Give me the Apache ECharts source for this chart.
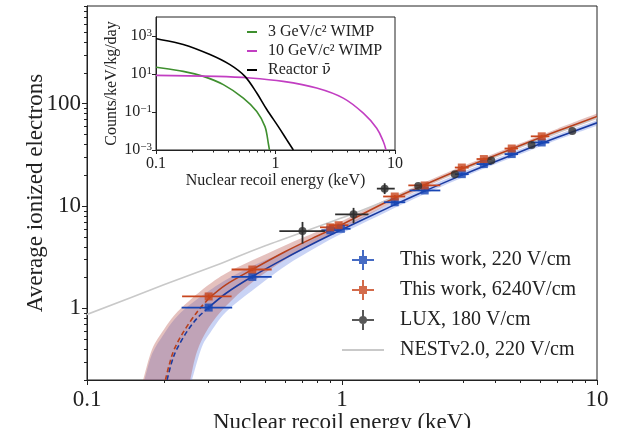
<!DOCTYPE html>
<html><head><meta charset="utf-8">
<script src="https://cdn.jsdelivr.net/npm/echarts@6/dist/echarts.min.js"></script>
<style>html,body{margin:0;padding:0;background:#fff}#c{width:619px;height:428px}</style>
</head><body><div id="c"></div>
<script>
const FONT = '"Liberation Serif", "DejaVu Serif", serif';

// ---------- main axes ticks ----------
const xMajor = [0.1, 1, 10];
const xMinor = [0.2, 0.3, 0.4, 0.5, 0.6, 0.7, 0.8, 0.9, 2, 3, 4, 5, 6, 7, 8, 9];
const yMajor = [1, 10, 100];
const yMinor = [0.2, 0.3, 0.4, 0.5, 0.6, 0.7, 0.8, 0.9, 2, 3, 4, 5, 6, 7, 8, 9,
                20, 30, 40, 50, 60, 70, 80, 90, 200, 300, 400, 500, 600, 700, 800, 900];

// ---------- main data ----------
const blueX   = [0.3, 0.445, 0.9, 0.99, 1.61, 2.11, 2.95, 3.6, 4.63, 6.07];
const blueY   = [1.02, 2.03, 5.8, 6.0, 10.9, 14.2, 20.5, 25.7, 32.2, 41.8];
const blueXlo = [0.235, 0.369, 0.83, 0.91, 1.46, 1.84, 2.77, 3.37, 4.34, 5.5];
const blueXhi = [0.371, 0.53, 0.98, 1.08, 1.77, 2.43, 3.14, 3.86, 4.9, 6.5];
const blueYlo = [0.97, 1.95, 5.6, 5.8, 10.5, 13.7, 19.8, 24.8, 31.1, 40.4];
const blueYhi = [1.07, 2.11, 6.0, 6.2, 11.3, 14.7, 21.2, 26.6, 33.3, 43.2];

const redX   = [0.3, 0.445, 0.9, 0.97, 1.61, 2.11, 2.95, 3.6, 4.63, 6.07];
const redY   = [1.31, 2.4, 6.2, 6.5, 12.4, 15.9, 23.8, 28.8, 36.5, 48.0];
const redXlo = [0.236, 0.369, 0.82, 0.89, 1.45, 1.82, 2.77, 3.37, 4.34, 5.5];
const redXhi = [0.369, 0.53, 0.99, 1.06, 1.77, 2.43, 3.14, 3.86, 4.9, 6.5];
const redYlo = [1.25, 2.31, 6.0, 6.3, 12.0, 15.4, 23.0, 27.9, 35.3, 46.4];
const redYhi = [1.37, 2.49, 6.4, 6.7, 12.8, 16.4, 24.6, 29.7, 37.7, 49.6];

const luxX   = [0.7, 1.11, 1.47, 1.99, 2.77, 3.85, 5.54, 8.0];
const luxY   = [5.7, 8.3, 14.8, 15.7, 20.5, 27.8, 39.5, 54.0];
const luxXlo = [0.568, 0.94, 1.37, 1.99, 2.77, 3.85, 5.54, 8.0];
const luxXhi = [0.857, 1.27, 1.61, 1.99, 2.77, 3.85, 5.54, 8.0];
const luxYlo = [4.3, 6.8, 13.1, 15.7, 20.5, 27.8, 39.5, 54.0];
const luxYhi = [7.0, 9.6, 16.7, 15.7, 20.5, 27.8, 39.5, 54.0];

// fits; dashed part below the first data point
const redDashX  = [0.203, 0.21, 0.22, 0.24, 0.27, 0.3];
const redDashY  = [0.2, 0.28, 0.4, 0.6, 0.92, 1.25];
const redFitX   = [0.3, 0.35, 0.445, 0.6, 0.8, 1, 1.5, 2, 3, 5, 7, 10];
const redFitY   = [1.25, 1.7, 2.4, 3.6, 5.1, 6.6, 11, 15.2, 23.5, 39, 54, 75];
const blueDashX = [0.206, 0.215, 0.225, 0.245, 0.27, 0.3];
const blueDashY = [0.2, 0.3, 0.4, 0.58, 0.8, 1.02];
const blueFitX  = [0.3, 0.35, 0.445, 0.6, 0.8, 1, 1.5, 2, 3, 5, 7, 10];
const blueFitY  = [1.02, 1.4, 2.05, 3.1, 4.5, 5.9, 9.5, 13.2, 20.4, 34, 47, 65];

// uncertainty bands
const redUpX  = [0.166, 0.18, 0.2, 0.22, 0.25, 0.3, 0.35, 0.445, 0.6, 0.8, 1, 1.5, 2, 3, 5, 7, 10];
const redUpY  = [0.2, 0.4, 0.62, 0.86, 1.17, 1.7, 2.2, 2.95, 4.15, 5.65, 7.15, 11.7, 16.1, 24.7, 41, 57, 80];
const redLoX  = [0.254, 0.27, 0.3, 0.35, 0.445, 0.6, 0.8, 1, 1.5, 2, 3, 5, 7, 10];
const redLoY  = [0.2, 0.38, 0.65, 1.05, 1.8, 3.0, 4.5, 6.0, 10.2, 14.3, 22.3, 37, 51, 71];
const blueUpX = [0.168, 0.18, 0.2, 0.22, 0.25, 0.3, 0.35, 0.445, 0.6, 0.8, 1, 1.5, 2, 3, 5, 7, 10];
const blueUpY = [0.2, 0.36, 0.56, 0.78, 1.06, 1.48, 1.9, 2.6, 3.6, 5.0, 6.4, 10.2, 14.1, 21.7, 36, 50, 69];
const blueLoX = [0.258, 0.28, 0.3, 0.35, 0.445, 0.6, 0.8, 1, 1.5, 2, 3, 5, 7, 10];
const blueLoY = [0.2, 0.4, 0.55, 0.92, 1.5, 2.6, 4.0, 5.4, 8.8, 12.3, 19.2, 32, 44.5, 61];

const nestX = [0.1, 0.2, 0.333, 0.5, 1.11, 2, 5, 10];
const nestY = [0.873, 1.7, 2.74, 4.1, 8.46, 15.3, 38, 73];

// ---------- inset data ----------
const insetXMajor = [0.1, 1, 10];
const insetXMinor = [0.2, 0.3, 0.4, 0.5, 0.6, 0.7, 0.8, 0.9, 2, 3, 4, 5, 6, 7, 8, 9];
const insetYMajor = [1e-3, 1e-1, 1e1, 1e3];
const wimp3X = [0.1, 0.169, 0.249, 0.366, 0.538, 0.697, 0.817, 0.871, 0.89];
const wimp3Y = [22.6, 13.8, 7.5, 2.75, 0.54, 0.107, 0.017, 0.0022, 0.001];
const wimp10X = [0.1, 0.322, 0.612, 1.16, 2.21, 3.69, 5.43, 7.03, 7.98, 8.41];
const wimp10Y = [8.5, 7.5, 6.2, 4.1, 1.84, 0.54, 0.087, 0.014, 0.0028, 0.001];
const reactorX = [0.1, 0.169, 0.283, 0.416, 0.555, 0.697, 0.843, 1.056, 1.24, 1.41];
const reactorY = [720, 360, 106, 31, 7.5, 1.0, 0.14, 0.017, 0.0035, 0.001];

const C_BLUE = '#1846b4', C_RED = '#c8461e', C_LUX = '#2e2e2e', C_NEST = '#c9c9c9';
const C_BLUE_L = '#1a3aa0', C_RED_L = '#b8401c';

const zip = (a, b) => a.map((v, i) => [v, b[i]]);
const crossIcon = 'path://M0,9h22v2h-22zM10,0h2v20h-2zM7,6h8v8h-8z';
const luxIcon = 'path://M0,9h22v2h-22zM10,0h2v20h-2zM15,10a4,4 0 1,1 -8,0a4,4 0 1,1 8,0z';
const lineIcon = 'path://M0,0h42v2h-42z';
const shortLine = 'path://M0,0h10v2h-10z';

// Catmull-Rom segments through pixel points (points come from api.coord)
function crSeg(p) {
  let d = '';
  for (let i = 0; i < p.length - 1; i++) {
    const p0 = p[i - 1] || p[i], p1 = p[i], p2 = p[i + 1], p3 = p[i + 2] || p[i + 1];
    const c1x = p1[0] + (p2[0] - p0[0]) / 6, c1y = p1[1] + (p2[1] - p0[1]) / 6;
    const c2x = p2[0] - (p3[0] - p1[0]) / 6, c2y = p2[1] - (p3[1] - p1[1]) / 6;
    d += ' C' + c1x.toFixed(2) + ',' + c1y.toFixed(2) + ' ' + c2x.toFixed(2) + ',' + c2y.toFixed(2) +
         ' ' + p2[0].toFixed(2) + ',' + p2[1].toFixed(2);
  }
  return d;
}
const mv = (c, p) => c + p[0].toFixed(2) + ',' + p[1].toFixed(2);

function band(upX, upY, loX, loY, color) {
  return {
    type: 'custom', xAxisIndex: 0, yAxisIndex: 0, clip: true, silent: true, z: 1,
    data: [[upX[0], upY[0]]],
    renderItem(params, api) {
      const up = upX.map((x, i) => api.coord([x, upY[i]]));
      const lo = loX.map((x, i) => api.coord([x, loY[i]])).reverse();
      const d = mv('M', up[0]) + crSeg(up) + ' ' + mv('L', lo[0]) + crSeg(lo) + ' Z';
      return { type: 'path', shape: { pathData: d }, style: { fill: color } };
    }
  };
}
function errbars(name, xs, ys, xlo, xhi, ylo, yhi, color) {
  return {
    type: 'custom', name: name + ' err', xAxisIndex: 0, yAxisIndex: 0, clip: true, silent: true, z: 4,
    data: xs.map((x, i) => [x, ys[i], xlo[i], xhi[i], ylo[i], yhi[i]]),
    renderItem(params, api) {
      const x = api.value(0), y = api.value(1);
      const a = api.coord([api.value(2), y]), b = api.coord([api.value(3), y]);
      const c = api.coord([x, api.value(4)]), d = api.coord([x, api.value(5)]);
      return { type: 'group', children: [
        { type: 'line', shape: { x1: a[0], y1: a[1], x2: b[0], y2: b[1] }, style: { stroke: color, lineWidth: 1.8 } },
        { type: 'line', shape: { x1: c[0], y1: c[1], x2: d[0], y2: d[1] }, style: { stroke: color, lineWidth: 1.8 } }
      ]};
    }
  };
}
function curve(name, xs, ys, color, width, dashed, xi, yi, z) {
  return {
    type: 'custom', name: name, xAxisIndex: xi, yAxisIndex: yi, clip: true, silent: true, z: z || 3,
    itemStyle: { color: color }, data: [[xs[0], ys[0]]],
    renderItem(params, api) {
      const pts = xs.map((x, i) => api.coord([x, ys[i]]));
      return { type: 'path', shape: { pathData: mv('M', pts[0]) + crSeg(pts) },
        style: { stroke: color, lineWidth: width, fill: null, lineDash: dashed ? [5, 3] : null } };
    }
  };
}

const axisCommon = { type: 'log', logBase: 10, splitLine: { show: false }, minorTick: { show: false }, nameMoveOverlap: false };
const lblStyle = { color: '#222', fontFamily: FONT };

const option = {
  animation: false,
  backgroundColor: '#fff',
  grid: [
    { left: 87, right: 22, top: 6, bottom: 48, show: true, borderColor: '#222', borderWidth: 1,
      containLabel: false, outerBoundsMode: 'none' },
    { left: 156, top: 17, width: 239, height: 133, show: true, borderColor: '#222', borderWidth: 1,
      backgroundColor: '#fff', z: 5, containLabel: false, outerBoundsMode: 'none' }
  ],
  xAxis: [
    Object.assign({}, axisCommon, { gridIndex: 0, min: 0.1, max: 10, position: 'bottom',
      axisLine: { show: true, lineStyle: { color: '#222', width: 1 } },
      axisTick: { show: true, length: 5, inside: false, lineStyle: { color: '#222' }, customValues: xMajor },
      axisLabel: Object.assign({ fontSize: 23, margin: 8, customValues: xMajor, formatter: v => String(+v.toPrecision(3)) }, lblStyle),
      name: 'Nuclear recoil energy (keV)', nameLocation: 'middle', nameGap: 31,
      nameTextStyle: { fontSize: 23, color: '#222', fontFamily: FONT } }),
    Object.assign({}, axisCommon, { gridIndex: 0, min: 0.1, max: 10, position: 'bottom',
      axisLine: { show: false }, axisLabel: { show: false },
      axisTick: { show: true, length: 3, lineStyle: { color: '#222' }, customValues: xMinor } }),
    Object.assign({}, axisCommon, { gridIndex: 1, min: 0.1, max: 10, position: 'bottom', z: 6,
      axisLine: { show: true, lineStyle: { color: '#222', width: 1 } },
      axisTick: { show: true, length: 4, lineStyle: { color: '#222' }, customValues: insetXMajor },
      axisLabel: Object.assign({ fontSize: 16, margin: 6, customValues: insetXMajor, formatter: v => String(+v.toPrecision(3)) }, lblStyle),
      name: 'Nuclear recoil energy (keV)', nameLocation: 'middle', nameGap: 23,
      nameTextStyle: { fontSize: 16, color: '#222', fontFamily: FONT } }),
    Object.assign({}, axisCommon, { gridIndex: 1, min: 0.1, max: 10, position: 'bottom', z: 6,
      axisLine: { show: false }, axisLabel: { show: false },
      axisTick: { show: true, length: 2.5, lineStyle: { color: '#222' }, customValues: insetXMinor } })
  ],
  yAxis: [
    Object.assign({}, axisCommon, { gridIndex: 0, min: 0.2, max: 900, position: 'left',
      axisLine: { show: true, lineStyle: { color: '#222', width: 1 } },
      axisTick: { show: true, length: 5, lineStyle: { color: '#222' }, customValues: yMajor },
      axisLabel: Object.assign({ fontSize: 23, margin: 6, customValues: yMajor, formatter: v => String(Math.round(v)) }, lblStyle),
      name: 'Average ionized electrons', nameLocation: 'middle', nameGap: 40,
      nameTextStyle: { fontSize: 23, color: '#222', fontFamily: FONT } }),
    Object.assign({}, axisCommon, { gridIndex: 0, min: 0.2, max: 900, position: 'left',
      axisLine: { show: false }, axisLabel: { show: false },
      axisTick: { show: true, length: 3, lineStyle: { color: '#222' }, customValues: yMinor } }),
    Object.assign({}, axisCommon, { gridIndex: 1, min: 1e-3, max: 1e4, position: 'left', z: 6,
      axisLine: { show: true, lineStyle: { color: '#222', width: 1 } },
      axisTick: { show: true, length: 4, lineStyle: { color: '#222' }, customValues: insetYMajor },
      axisLabel: { margin: 4, customValues: insetYMajor, color: '#222',
        formatter: v => { const e = Math.round(Math.log10(v)); return '{b|10}{s|' + (e < 0 ? '\u2212' + (-e) : e) + '}'; },
        rich: { b: { fontSize: 16, fontFamily: FONT, color: '#222' }, s: { fontSize: 11, fontFamily: FONT, color: '#222', verticalAlign: 'top' } } },
      name: 'Counts/keV/kg/day', nameLocation: 'middle', nameGap: 36,
      nameTextStyle: { fontSize: 16, color: '#222', fontFamily: FONT } })
  ],
  legend: [
    { left: 342, top: 250, padding: 0, orient: 'vertical', itemWidth: 42, itemHeight: 20, itemGap: 10,
      symbolKeepAspect: true, selectedMode: false,
      textStyle: { fontSize: 20, color: '#222', fontFamily: FONT, padding: [0, 0, 0, 11] },
      data: [
        { name: 'This work, 220 V/cm', icon: crossIcon },
        { name: 'This work, 6240V/cm', icon: crossIcon },
        { name: 'LUX, 180 V/cm', icon: luxIcon },
        { name: 'NESTv2.0, 220 V/cm', icon: lineIcon }
      ] },
    { left: 247, top: 24, padding: 0, orient: 'vertical', itemWidth: 10, itemHeight: 12, itemGap: 3,
      symbolKeepAspect: true, selectedMode: false, z: 7,
      formatter: n => n.indexOf('Reactor') === 0 ? '{a|Reactor }{n|\u03bd\u0304}' : n,
      textStyle: { fontSize: 16, color: '#222', fontFamily: FONT, padding: [0, 0, 0, 6],
        rich: { a: { fontSize: 16, color: '#222', fontFamily: FONT },
                n: { fontSize: 15, color: '#222', fontFamily: '"DejaVu Serif", serif' } } },
      data: [
        { name: '3 GeV/c\u00b2 WIMP', icon: shortLine },
        { name: '10 GeV/c\u00b2 WIMP', icon: shortLine },
        { name: 'Reactor \u03bd\u0304', icon: shortLine }
      ] }
  ],
  series: [
    band(blueUpX, blueUpY, blueLoX, blueLoY, 'rgba(90,120,225,0.33)'),
    band(redUpX, redUpY, redLoX, redLoY, 'rgba(175,62,52,0.32)'),
    curve('NESTv2.0, 220 V/cm', nestX, nestY, C_NEST, 1.6, false, 0, 0, 2),
    curve('blue dash', blueDashX, blueDashY, C_BLUE_L, 1.6, true, 0, 0),
    curve('blue fit', blueFitX, blueFitY, C_BLUE_L, 1.6, false, 0, 0),
    curve('red dash', redDashX, redDashY, C_RED_L, 1.6, true, 0, 0),
    curve('red fit', redFitX, redFitY, C_RED_L, 1.6, false, 0, 0),
    errbars('blue', blueX, blueY, blueXlo, blueXhi, blueYlo, blueYhi, C_BLUE),
    errbars('red', redX, redY, redXlo, redXhi, redYlo, redYhi, C_RED),
    errbars('lux', luxX, luxY, luxXlo, luxXhi, luxYlo, luxYhi, C_LUX),
    { type: 'scatter', name: 'This work, 220 V/cm', xAxisIndex: 0, yAxisIndex: 0, data: zip(blueX, blueY),
      symbol: 'rect', symbolSize: 8, itemStyle: { color: C_BLUE }, z: 5, silent: true },
    { type: 'scatter', name: 'This work, 6240V/cm', xAxisIndex: 0, yAxisIndex: 0, data: zip(redX, redY),
      symbol: 'rect', symbolSize: 8, itemStyle: { color: C_RED }, z: 5, silent: true },
    { type: 'scatter', name: 'LUX, 180 V/cm', xAxisIndex: 0, yAxisIndex: 0, data: zip(luxX, luxY),
      symbol: 'circle', symbolSize: 8, itemStyle: { color: C_LUX }, z: 6, silent: true },
    curve('3 GeV/c\u00b2 WIMP', wimp3X, wimp3Y, '#3f8f2f', 1.6, false, 2, 2, 8),
    curve('10 GeV/c\u00b2 WIMP', wimp10X, wimp10Y, '#c23ec2', 1.6, false, 2, 2, 8),
    curve('Reactor \u03bd\u0304', reactorX, reactorY, '#000000', 1.6, false, 2, 2, 8)
  ]
};

const chart = echarts.init(document.getElementById('c'), null, { renderer: 'canvas' });
chart.setOption(option);
</script></body></html>
